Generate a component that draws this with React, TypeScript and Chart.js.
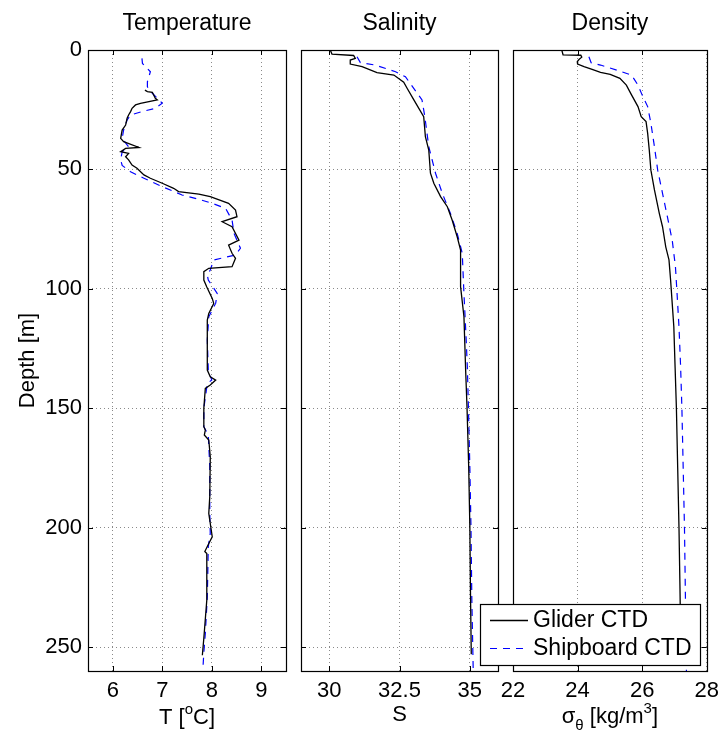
import React, { useEffect, useRef } from 'react';
import { Chart, registerables } from 'chart.js';

Chart.register(...registerables);

const FONT_FAMILY = "'Liberation Sans', Arial, Helvetica, sans-serif";

// ---- axis ticks ----
const depthTicks = [0, 50, 100, 150, 200, 250];
const tempTicks = [6, 7, 8, 9];
const salTicks = [30, 32.5, 35];
const denTicks = [22, 24, 26, 28];

const seriesLabels = ['Glider CTD', 'Shipboard CTD'];

// ---- Temperature: glider CTD ----
const gliderTempDepth = [16.8, 17.4, 17.7, 20.2, 20.9, 22.3, 23.0, 24.4, 25.8, 27.2, 28.6, 31.4, 33.5, 37.0, 38.4, 40.8, 41.2, 42.6, 43.3, 44.7, 46.0, 48.2, 49.5, 52.3, 53.7, 55.8, 57.9, 59.3, 60.3, 61.4, 64.2, 67.0, 69.8, 71.9, 74.0, 79.6, 81.7, 85.1, 87.2, 90.7, 91.4, 92.8, 96.3, 99.2, 104.0, 106.1, 110.3, 113.1, 134.0, 136.8, 138.2, 140.3, 141.7, 150.0, 157.7, 159.1, 161.2, 163.3, 170.3, 187.0, 194.0, 203.8, 206.6, 210.0, 210.8, 230.3, 246.3, 253.4];
const gliderTemp = [6.65, 6.70, 6.80, 6.86, 6.90, 6.56, 6.46, 6.39, 6.36, 6.32, 6.29, 6.26, 6.19, 6.16, 6.22, 6.53, 6.26, 6.16, 6.32, 6.26, 6.32, 6.39, 6.49, 6.63, 6.76, 7.00, 7.23, 7.33, 7.74, 7.97, 8.34, 8.48, 8.51, 8.21, 8.41, 8.55, 8.34, 8.41, 8.48, 8.41, 7.94, 7.84, 7.84, 7.90, 8.01, 8.04, 7.94, 7.91, 7.91, 7.97, 8.08, 7.97, 7.87, 7.84, 7.84, 7.87, 7.85, 7.94, 7.97, 7.96, 7.94, 8.01, 7.94, 7.86, 7.90, 7.90, 7.84, 7.81];

// ---- Temperature: shipboard CTD ----
const shipTempDepth = [3.5, 5.6, 9.1, 13.3, 15.4, 18.1, 22.3, 24.4, 25.8, 27.2, 29.3, 33.5, 37.0, 40.5, 42.6, 46.0, 48.3, 51.0, 53.7, 57.2, 60.7, 62.5, 64.2, 66.3, 71.2, 76.8, 83.0, 85.8, 87.9, 92.1, 94.2, 96.3, 101.9, 106.0, 111.7, 121.4, 134.0, 138.2, 139.6, 150.0, 157.7, 161.2, 174.4, 194.0, 202.4, 208.0, 229.0, 244.3, 252.3, 259.6];
const shipTemp = [6.59, 6.60, 6.76, 6.70, 6.70, 6.80, 7.00, 6.86, 6.59, 6.36, 6.29, 6.22, 6.19, 6.32, 6.19, 6.16, 6.19, 6.36, 6.63, 7.00, 7.40, 7.74, 8.01, 8.28, 8.41, 8.45, 8.58, 8.48, 8.04, 7.97, 7.91, 7.93, 8.11, 8.08, 7.94, 7.91, 7.93, 8.00, 7.91, 7.84, 7.84, 7.93, 7.96, 7.96, 7.97, 7.93, 7.91, 7.87, 7.84, 7.82];

// ---- Salinity: glider CTD ----
const gliderSalDepth = [0.0, 1.7, 2.3, 3.5, 4.2, 5.9, 7.0, 9.5, 10.5, 13.5, 16.0, 20.9, 27.9, 36.3, 41.9, 51.6, 55.8, 61.4, 65.6, 71.2, 78.2, 83.8, 99.1, 111.7, 134.0, 150.0, 175.0, 200.0, 225.0, 253.0];
const gliderSal = [30.04, 30.10, 30.87, 30.93, 30.75, 30.75, 31.17, 31.70, 32.30, 32.65, 32.77, 33.01, 33.36, 33.42, 33.54, 33.60, 33.72, 33.96, 34.20, 34.37, 34.55, 34.67, 34.67, 34.79, 34.85, 34.90, 34.96, 35.00, 35.02, 35.05];

// ---- Salinity: shipboard CTD ----
const shipSalDepth = [2.8, 5.3, 6.3, 9.1, 11.2, 20.9, 27.9, 40.5, 51.6, 60.0, 68.4, 76.8, 85.1, 101.9, 121.4, 132.6, 150.0, 175.0, 200.0, 230.0, 260.0];
const shipSal = [30.99, 31.11, 31.64, 32.36, 32.71, 33.30, 33.40, 33.54, 33.78, 34.02, 34.31, 34.55, 34.73, 34.79, 34.87, 34.91, 34.95, 35.00, 35.04, 35.07, 35.12];

// ---- Density: glider CTD ----
const gliderDenDepth = [0.0, 2.0, 2.2, 3.0, 3.9, 4.9, 5.9, 7.0, 8.1, 9.4, 10.2, 11.9, 14.7, 18.8, 23.7, 27.9, 30.0, 34.9, 41.9, 50.3, 58.6, 68.4, 74.0, 82.4, 87.9, 96.3, 106.1, 115.9, 133.0, 150.0, 175.0, 200.0, 225.0, 253.0];
const gliderDen = [23.51, 23.55, 24.10, 24.13, 24.05, 23.99, 24.00, 24.20, 24.45, 24.71, 25.01, 25.31, 25.51, 25.67, 25.87, 25.97, 26.12, 26.17, 26.22, 26.27, 26.38, 26.53, 26.63, 26.73, 26.83, 26.88, 26.93, 26.98, 27.02, 27.06, 27.10, 27.14, 27.17, 27.20];

// ---- Density: shipboard CTD ----
const shipDenDepth = [2.8, 5.3, 6.3, 8.4, 10.5, 14.7, 19.5, 23.7, 30.7, 40.5, 50.3, 60.0, 69.8, 79.6, 90.7, 101.9, 115.9, 132.6, 150.0, 175.0, 200.0, 230.0, 260.0];
const shipDen = [24.35, 24.42, 24.71, 25.21, 25.67, 25.87, 26.02, 26.17, 26.27, 26.38, 26.48, 26.63, 26.78, 26.93, 27.03, 27.08, 27.14, 27.19, 27.23, 27.27, 27.31, 27.34, 27.37];

type Part = { text: string; sup?: boolean; sub?: boolean };

interface PanelSpec {
  title: string;
  xMin: number;
  xMax: number;
  xTicks: number[];
  xLabel: Part[];
  glider: { depth: number[]; value: number[] };
  ship: { depth: number[]; value: number[] };
  showDepth: boolean;
  legend: boolean;
}

const panels: PanelSpec[] = [
  {
    title: 'Temperature',
    xMin: 5.5,
    xMax: 9.5,
    xTicks: tempTicks,
    xLabel: [{ text: 'T [' }, { text: 'o', sup: true }, { text: 'C]' }],
    glider: { depth: gliderTempDepth, value: gliderTemp },
    ship: { depth: shipTempDepth, value: shipTemp },
    showDepth: true,
    legend: false,
  },
  {
    title: 'Salinity',
    xMin: 29,
    xMax: 36,
    xTicks: salTicks,
    xLabel: [{ text: 'S' }],
    glider: { depth: gliderSalDepth, value: gliderSal },
    ship: { depth: shipSalDepth, value: shipSal },
    showDepth: false,
    legend: false,
  },
  {
    title: 'Density',
    xMin: 22,
    xMax: 28,
    xTicks: denTicks,
    xLabel: [{ text: 'σ' }, { text: 'θ', sub: true }, { text: ' [kg/m' }, { text: '3', sup: true }, { text: ']' }],
    glider: { depth: gliderDenDepth, value: gliderDen },
    ship: { depth: shipDenDepth, value: shipDen },
    showDepth: false,
    legend: true,
  },
];

// canvas geometry (page pixels)
const geometry = [
  { left: 0, width: 293, axisW: 88, padRight: 7, labelBaseline: 724 },
  { left: 293, width: 212, axisW: 8, padRight: 7, labelBaseline: 721 },
  { left: 470, width: 256, axisW: 43, padRight: 16, labelBaseline: 723 },
];

const H = 733;
const PLOT_BOTTOM = 671;
const FS = 22;
const FS_TITLE = 23;
const FS_LEGEND = 23;

function toPoints(depth: number[], value: number[]) {
  return depth.map((d, i) => ({ x: value[i], y: d }));
}

function drawParts(ctx: CanvasRenderingContext2D, parts: Part[], cx: number, baseline: number, size: number) {
  const small = Math.round(size * 0.68);
  const fontFor = (p: Part) => `${p.sup || p.sub ? small : size}px ${FONT_FAMILY}`;
  const widths = parts.map((p) => {
    ctx.font = fontFor(p);
    return ctx.measureText(p.text).width;
  });
  const total = widths.reduce((a, b) => a + b, 0);
  let x = cx - total / 2;
  ctx.textAlign = 'left';
  ctx.textBaseline = 'alphabetic';
  parts.forEach((p, i) => {
    ctx.font = fontFor(p);
    const dy = p.sup ? -size * 0.45 : p.sub ? size * 0.32 : 0;
    ctx.fillText(p.text, x, baseline + dy);
    x += widths[i];
  });
}

function Panel({ spec, geo }: { spec: PanelSpec; geo: (typeof geometry)[number] }) {
  const ref = useRef<HTMLCanvasElement>(null);

  useEffect(() => {
    const canvas = ref.current;
    if (!canvas) return;
    const font = { family: FONT_FAMILY, size: FS, weight: 'normal' as const };

    const framePlugin = {
      id: 'frame' + spec.title,
      afterDraw(chart: any) {
        const ctx: CanvasRenderingContext2D = chart.ctx;
        const { left, right, top, bottom } = chart.chartArea;
        const xs = chart.scales.x;
        const ys = chart.scales.y;
        const tl = 5;
        ctx.save();
        // inward tick marks
        ctx.strokeStyle = '#000';
        ctx.lineWidth = 1;
        ctx.beginPath();
        spec.xTicks.forEach((v) => {
          const px = Math.round(xs.getPixelForValue(v)) + 0.5;
          ctx.moveTo(px, bottom);
          ctx.lineTo(px, bottom - tl);
          ctx.moveTo(px, top);
          ctx.lineTo(px, top + tl);
        });
        depthTicks.forEach((v) => {
          const py = Math.round(ys.getPixelForValue(v)) + 0.5;
          ctx.moveTo(left, py);
          ctx.lineTo(left + tl, py);
          ctx.moveTo(right, py);
          ctx.lineTo(right - tl, py);
        });
        ctx.stroke();
        // box
        ctx.lineWidth = 1.2;
        ctx.strokeRect(Math.round(left) + 0.5, Math.round(top) + 0.5, Math.round(right - left), Math.round(bottom - top));
        // x-axis label with super/subscripts
        ctx.fillStyle = '#000';
        drawParts(ctx, spec.xLabel, (left + right) / 2, geo.labelBaseline, FS);

        // legend
        if (spec.legend) {
          const lx = Math.round(right) - 227;
          const ly = Math.round(bottom) - 67;
          const lw = 220;
          const lh = 61;
          ctx.fillStyle = '#fff';
          ctx.fillRect(lx, ly, lw, lh);
          ctx.strokeStyle = '#000';
          ctx.lineWidth = 1.2;
          ctx.strokeRect(lx + 0.5, ly + 0.5, lw, lh);
          chart.data.datasets.forEach((ds: any, i: number) => {
            const cy = ly + 16 + i * 28;
            ctx.save();
            ctx.strokeStyle = ds.borderColor;
            ctx.lineWidth = ds.borderWidth;
            ctx.setLineDash(ds.borderDash || []);
            ctx.beginPath();
            ctx.moveTo(lx + 10, cy + 0.5);
            ctx.lineTo(lx + 48, cy + 0.5);
            ctx.stroke();
            ctx.restore();
            ctx.fillStyle = '#000';
            ctx.font = `${FS_LEGEND}px ${FONT_FAMILY}`;
            ctx.textAlign = 'left';
            ctx.textBaseline = 'middle';
            ctx.fillText(ds.label, lx + 53, cy + 1);
          });
        }
        ctx.restore();
      },
    };

    const chart = new Chart(canvas, {
      type: 'scatter',
      data: {
        datasets: [
          {
            label: seriesLabels[0],
            data: toPoints(spec.glider.depth, spec.glider.value),
            showLine: true,
            borderColor: '#000000',
            backgroundColor: '#000000',
            borderWidth: 1.3,
            pointRadius: 0,
            tension: 0,
          },
          {
            label: seriesLabels[1],
            data: toPoints(spec.ship.depth, spec.ship.value),
            showLine: true,
            borderColor: '#0000ff',
            backgroundColor: '#0000ff',
            borderWidth: 1.2,
            borderDash: [7, 6],
            pointRadius: 0,
            tension: 0,
          },
        ],
      },
      options: {
        responsive: false,
        animation: false,
        devicePixelRatio: 1,
        events: [],
        layout: { padding: { left: 0, right: geo.padRight, top: 0, bottom: 0 } },
        plugins: {
          legend: { display: false },
          tooltip: { enabled: false },
          title: {
            display: true,
            text: spec.title,
            fullSize: false,
            color: '#000',
            font: { family: FONT_FAMILY, size: FS_TITLE, weight: 'normal' },
            padding: { top: 10, bottom: 12.4 },
          },
        },
        scales: {
          x: {
            type: 'linear',
            position: 'bottom',
            min: spec.xMin,
            max: spec.xMax,
            afterBuildTicks: (s: any) => {
              s.ticks = spec.xTicks.map((v) => ({ value: v }));
            },
            afterFit: (s: any) => {
              s.height = H - PLOT_BOTTOM;
            },
            ticks: {
              color: '#000',
              font,
              padding: 7,
              autoSkip: false,
              maxRotation: 0,
              callback: (v: any) => String(v),
            },
            grid: { color: '#8a8a8a', lineWidth: 1, drawTicks: false },
            border: { display: false, dash: [1, 3] },
          },
          y: {
            type: 'linear',
            position: 'left',
            reverse: true,
            min: 0,
            max: 260,
            afterBuildTicks: (s: any) => {
              s.ticks = depthTicks.map((v) => ({ value: v }));
            },
            afterFit: (s: any) => {
              s.width = geo.axisW;
            },
            ticks: {
              display: spec.showDepth,
              color: '#000',
              font,
              padding: 6,
              callback: (v: any) => String(v),
            },
            grid: { color: '#8a8a8a', lineWidth: 1, drawTicks: false },
            border: { display: false, dash: [1, 3] },
            title: {
              display: spec.showDepth,
              text: 'Depth [m]',
              color: '#000',
              font,
              padding: { top: 15, bottom: 0 },
            },
          },
        },
      },
      plugins: [framePlugin],
    } as any);

    return () => chart.destroy();
  }, [spec, geo]);

  return (
    <canvas
      ref={ref}
      width={geo.width}
      height={H}
      style={{ position: 'absolute', left: geo.left, top: 0, width: geo.width, height: H, display: 'block' }}
    />
  );
}

export default function App() {
  return (
    <div style={{ position: 'fixed', left: 0, top: 0, width: 726, height: H, background: '#fff', overflow: 'hidden' }}>
      {panels.map((p, i) => (
        <Panel key={p.title} spec={p} geo={geometry[i]} />
      ))}
    </div>
  );
}
